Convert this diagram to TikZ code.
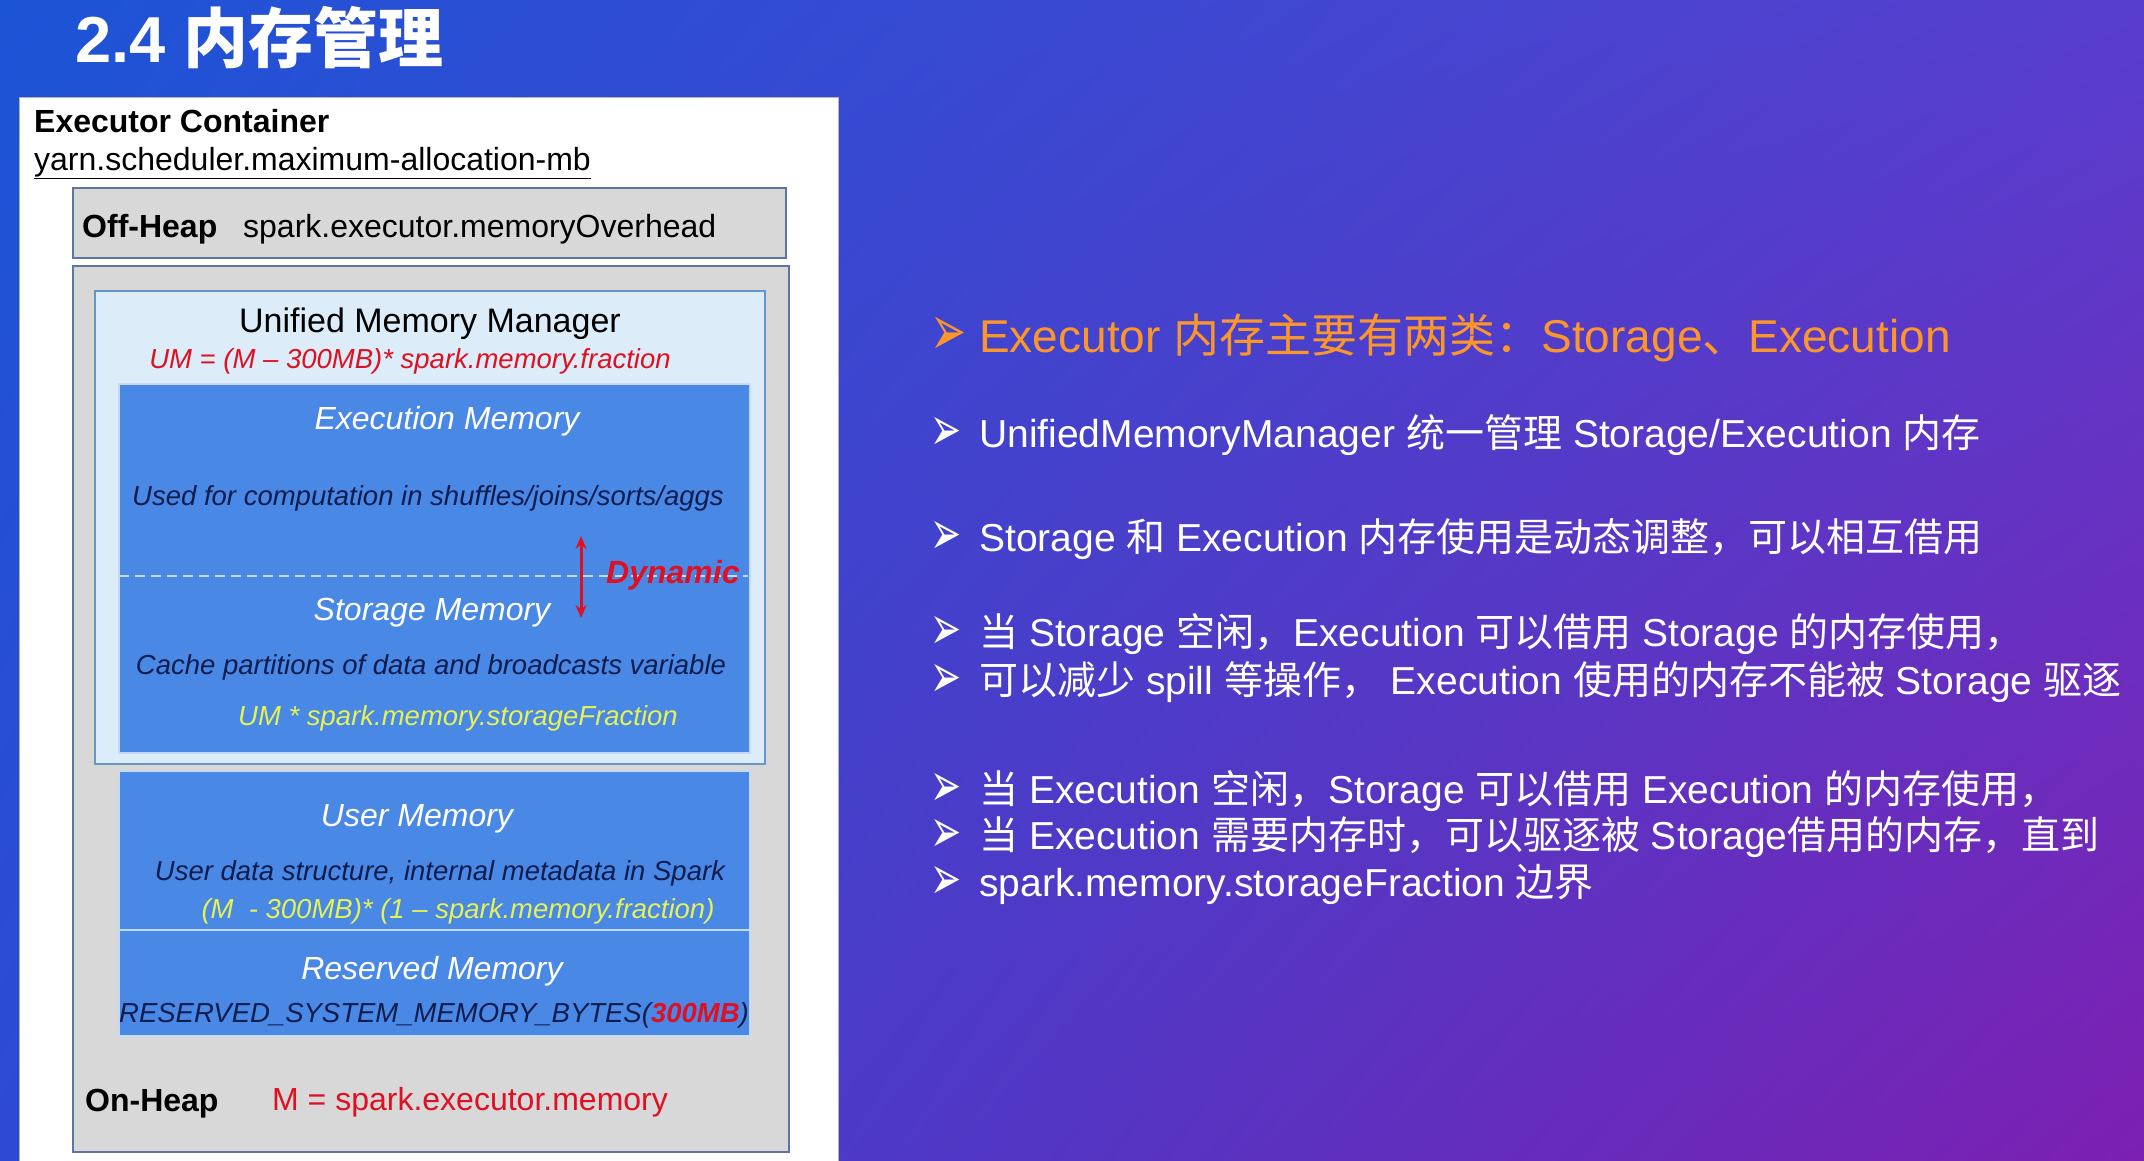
\documentclass[tikz,border=0pt]{standalone}
\usepackage{graphicx}
\usepackage{fontspec}
\setmainfont{Liberation Sans}
\newfontfamily\cjk{Noto Sans CJK SC}
\newfontfamily\dingfont{DejaVu Sans}
\usetikzlibrary{arrows.meta,shadings}
\definecolor{bgblue}{RGB}{28,84,214}
\definecolor{bgviolet}{RGB}{88,62,206}
\definecolor{bgleftlow}{RGB}{46,74,212}
\definecolor{bgpurple}{RGB}{124,32,178}
\definecolor{heapgray}{RGB}{216,216,216}
\definecolor{heapline}{RGB}{92,118,160}
\definecolor{umfill}{RGB}{220,236,248}
\definecolor{umline}{RGB}{104,150,196}
\definecolor{memblue}{RGB}{74,136,230}
\definecolor{memline}{RGB}{196,218,246}
\definecolor{navytext}{RGB}{14,28,78}
\definecolor{formred}{RGB}{222,16,34}
\definecolor{formyellow}{RGB}{228,242,84}
\definecolor{pointorange}{RGB}{250,150,44}
\newcommand{\zh}[1]{{\cjk #1}}
\newcommand{\bul}[1][62]{\makebox[49pt][l]{\smash{\raisebox{-3pt}{\scalebox{0.6}[1]{\dingfont\fontsize{#1}{#1}\selectfont ➢}}}}}
\begin{document}
\begin{tikzpicture}[x=1pt, y=-1pt,
  heapbox/.style={draw=heapline, line width=2pt, fill=heapgray, inner sep=0pt, anchor=north west},
  membox/.style={draw=memline, line width=2pt, fill=memblue, inner sep=0pt, anchor=north west},
  plain/.style={font=\fontsize{32}{38}\selectfont, anchor=base west, inner sep=0pt},
  memtitle/.style={text=white, font=\fontsize{32}{38}\selectfont\itshape, anchor=base, inner sep=0pt},
  memnote/.style={text=navytext, font=\fontsize{27.5}{33}\selectfont\itshape, anchor=base, inner sep=0pt},
  memform/.style={text=formyellow, font=\fontsize{27.5}{33}\selectfont\itshape, anchor=base, inner sep=0pt},
  point/.style={text=white, font=\fontsize{39}{47}\selectfont, anchor=base west, inner sep=0pt}]
  % Background
  \shade[upper left=bgblue, upper right=bgviolet, lower left=bgleftlow, lower right=bgpurple] (0,0) rectangle (2144,1160);
  \useasboundingbox (0,0) rectangle (2144,1160);
  \node (title) [anchor=base west, text=white, font=\fontsize{65}{72}\selectfont\bfseries, inner sep=0pt] at (75,62) {2.4 \zh{内存管理}};
  % Container
  \node (container) [draw=gray!60, fill=white, line width=1pt, minimum width=819pt, minimum height=1080pt, anchor=north west, inner sep=0pt] at (19,97) {};
  \node (ectitle) [plain, font=\fontsize{32}{38}\selectfont\bfseries] at (34,132) {Executor Container};
  \node (ecyarn) [plain] at (34,170) {\underline{yarn.scheduler.maximum-allocation-mb}};
  % Off-Heap
  \node (offheap) [heapbox, minimum width=713pt, minimum height=70pt] at (72,187) {};
  \node (offlabel) [plain, font=\fontsize{32}{38}\selectfont\bfseries] at (82,237) {Off-Heap};
  \node (offparam) [plain] at (243,237) {spark.executor.memoryOverhead};
  % On-Heap
  \node (onheap) [heapbox, minimum width=716pt, minimum height=886pt] at (72,265) {};
  \node (umm) [draw=umline, line width=2pt, fill=umfill, minimum width=670pt, minimum height=473pt, anchor=north west, inner sep=0pt] at (94,290) {};
  \node (ummtitle) [anchor=base, font=\fontsize{34}{40}\selectfont, inner sep=0pt] at (430,332) {Unified Memory Manager};
  \node (ummform) [anchor=base, text=formred, font=\fontsize{27.5}{33}\selectfont\itshape, inner sep=0pt] at (410,368) {UM = (M – 300MB)* spark.memory.fraction};
  \node (unified) [membox, minimum width=631pt, minimum height=369pt] at (118,383) {};
  \node (exectitle) [memtitle] at (447,429) {Execution Memory};
  \node (execnote) [memnote] at (428,505) {Used for computation in shuffles/joins/sorts/aggs};
  % Dashed border
  \coordinate (dashL) at (119,576);
  \coordinate (dashR) at (748,576);
  \draw[memline, line width=2pt, dash pattern=on 10pt off 6pt] (dashL) -- (dashR);
  \coordinate (dynup) at (581,536);
  \coordinate (dyndown) at (581,618);
  \draw[{Stealth[length=13pt,width=11pt]}-{Stealth[length=13pt,width=11pt]}, line width=3pt, formred] (dynup) -- (dyndown);
  \node (dynamic) [anchor=base west, text=formred, font=\fontsize{32}{38}\selectfont\bfseries\itshape, inner sep=0pt] at (606,583) {Dynamic};
  \node (stortitle) [memtitle] at (432,620) {Storage Memory};
  \node (stornote) [memnote] at (431,674) {Cache partitions of data and broadcasts variable};
  \node (storform) [memform] at (458,725) {UM * spark.memory.storageFraction};
  % User and Reserved
  \node (user) [membox, minimum width=631pt, minimum height=159pt] at (118,770) {};
  \node (usertitle) [memtitle] at (417,826) {User Memory};
  \node (usernote) [memnote] at (440,880) {User data structure, internal metadata in Spark};
  \node (userform) [memform] at (458,918) {(M\ \ - 300MB)* (1 – spark.memory.fraction)};
  \node (reserved) [membox, minimum width=631pt, minimum height=106pt] at (118,929) {};
  \node (restitle) [memtitle] at (432,979) {Reserved Memory};
  \node (resnote) [memnote] at (434,1022) {RESERVED\_SYSTEM\_MEMORY\_BYTES({\bfseries\color{formred}300MB})};
  \node (onlabel) [plain, font=\fontsize{32}{38}\selectfont\bfseries] at (85,1111) {On-Heap};
  \node (onparam) [plain, text=formred] at (272,1110) {M = spark.executor.memory};
  % Points
  \node (p1) [point, text=pointorange, font=\fontsize{46}{54}\selectfont] at (930,352) {\bul[72]Executor \zh{内存主要有两类：}Storage\zh{、}Execution};
  \node (p2) [point] at (930,447) {\bul UnifiedMemoryManager \zh{统一管理} Storage/Execution \zh{内存}};
  \node (p3) [point] at (930,551) {\bul Storage \zh{和} Execution \zh{内存使用是动态调整，可以相互借用}};
  \node (p4) [point] at (930,646) {\bul \zh{当} Storage \zh{空闲，}Execution \zh{可以借用} Storage \zh{的内存使用，}};
  \node (p5) [point] at (930,694) {\bul \zh{可以减少} spill \zh{等操作，} Execution \zh{使用的内存不能被} Storage \zh{驱逐}};
  \node (p6) [point] at (930,803) {\bul \zh{当} Execution \zh{空闲，}Storage \zh{可以借用} Execution \zh{的内存使用，}};
  \node (p7) [point] at (930,849) {\bul \zh{当} Execution \zh{需要内存时，可以驱逐被} Storage\zh{借用的内存，直到}};
  \node (p8) [point] at (930,896) {\bul spark.memory.storageFraction \zh{边界}};
\end{tikzpicture}
\end{document}
